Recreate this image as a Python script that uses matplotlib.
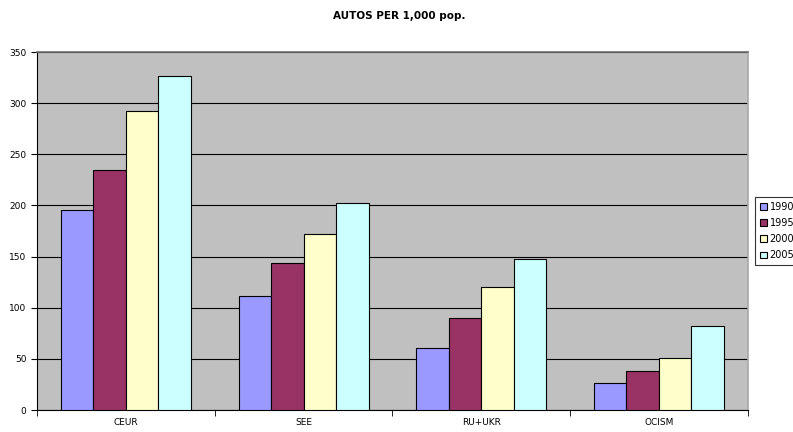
import numpy as np
import matplotlib.pyplot as plt

regions = ["CEUR", "SEE", "RU+UKR", "OCISM"]
years = ["1990", "1995", "2000", "2005"]
autos_1990 = [196, 111, 61, 26]
autos_1995 = [235, 144, 90, 38]
autos_2000 = [292, 172, 120, 51]
autos_2005 = [327, 202, 148, 82]

series = [autos_1990, autos_1995, autos_2000, autos_2005]
colors = ["#9999FF", "#993366", "#FFFFCC", "#CCFFFF"]

fig = plt.figure(figsize=(7.93, 4.32), dpi=100)
ax = fig.add_axes([0.0467, 0.0509, 0.8963, 0.8287])
ax.set_facecolor("#C0C0C0")

x = np.arange(len(regions))
w = 0.183
for i, vals in enumerate(series):
    ax.bar(x + (i - 1.5) * w, vals, w, color=colors[i], edgecolor="black",
           linewidth=0.8, label=years[i], zorder=3)

ax.set_xlim(-0.5, 3.5)
ax.set_ylim(0, 350)
ax.set_yticks(range(0, 351, 50))
ax.yaxis.grid(True, color="black", linewidth=0.8, zorder=1)
ax.set_xticks(x)
ax.set_xticklabels(regions)
ax.set_xticks(np.arange(-0.5, 4, 1), minor=True)
ax.tick_params(axis="x", which="major", length=0, labelsize=6.5, pad=6)
ax.tick_params(axis="x", which="minor", length=4, direction="out")
ax.tick_params(axis="y", labelsize=6.5, length=4, direction="out")

ax.spines["top"].set_color("#707070")
ax.spines["right"].set_color("#A8A8A8")
ax.spines["top"].set_linewidth(1.2)
ax.spines["right"].set_linewidth(1.2)
ax.spines["left"].set_color("black")
ax.spines["bottom"].set_color("black")

ax.set_title("AUTOS PER 1,000 pop.", fontsize=7.5, fontweight="bold", pad=24, x=0.51)

leg = ax.legend(loc="center left", bbox_to_anchor=(1.008, 0.5), fontsize=7,
                frameon=True, fancybox=False, edgecolor="black",
                handlelength=0.7, handleheight=0.7, handletextpad=0.3,
                borderpad=0.45, labelspacing=0.65, borderaxespad=0.2)
leg.get_frame().set_linewidth(0.8)

plt.savefig("out.png", dpi=100)
